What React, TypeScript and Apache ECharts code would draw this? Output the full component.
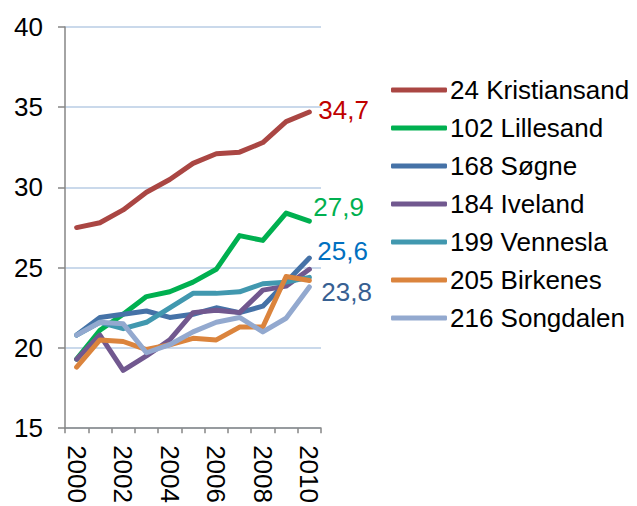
import React, { useEffect, useRef } from "react";
import * as echarts from "echarts";

const years = ["2000", "2001", "2002", "2003", "2004", "2005", "2006", "2007", "2008", "2009", "2010"];
const seriesNames = ["24 Kristiansand", "102 Lillesand", "168 Søgne", "184 Iveland", "199 Vennesla", "205 Birkenes", "216 Songdalen"];
const kristiansand = [27.5, 27.8, 28.6, 29.7, 30.5, 31.5, 32.1, 32.2, 32.8, 34.1, 34.7];
const lillesand = [19.3, 21.1, 22.1, 23.2, 23.5, 24.1, 24.9, 27.0, 26.7, 28.4, 27.9];
const sogne = [20.8, 21.9, 22.1, 22.3, 21.9, 22.1, 22.5, 22.2, 22.6, 24.1, 25.6];
const iveland = [19.3, 20.8, 18.6, 19.5, 20.5, 22.2, 22.35, 22.2, 23.6, 23.85, 24.9];
const vennesla = [20.8, 21.6, 21.2, 21.6, 22.5, 23.4, 23.4, 23.5, 24.0, 24.1, 24.4];
const birkenes = [18.8, 20.5, 20.4, 19.9, 20.2, 20.6, 20.5, 21.3, 21.3, 24.45, 24.2];
const songdalen = [20.8, 21.6, 21.5, 19.7, 20.2, 21.0, 21.6, 21.9, 21.0, 21.85, 23.8];
const yTicks = [15, 20, 25, 30, 35, 40];

const allValues = [kristiansand, lillesand, sogne, iveland, vennesla, birkenes, songdalen];
const lineColors = ["#AA4643", "#00B050", "#4572A7", "#71588F", "#4198AF", "#DB843D", "#93A9CF"];
// end-of-line value labels: series index -> style
const endLabels: Record<number, { color: string; offset: [number, number] }> = {
  0: { color: "#C00000", offset: [4, -2] },
  1: { color: "#00B050", offset: [-1, -14] },
  2: { color: "#0070C0", offset: [3, -7] },
  6: { color: "#376092", offset: [7, 5] },
};

const FONT = "'Liberation Sans', Arial, sans-serif";

export default function App() {
  const ref = useRef<HTMLDivElement>(null);
  useEffect(() => {
    if (!ref.current) return;
    const chart = echarts.init(ref.current, undefined, { renderer: "svg" });
    const series = seriesNames.map((name, si) => {
      const lab = endLabels[si];
      return {
        name,
        type: "line",
        symbol: "none",
        smooth: false,
        lineStyle: { color: lineColors[si], width: 5, cap: "round", join: "round" },
        itemStyle: { color: lineColors[si] },
        endLabel: lab
          ? {
              show: true,
              distance: 5,
              offset: lab.offset,
              color: lab.color,
              fontSize: 26,
              fontFamily: FONT,
              formatter: (p: any) => String(p.value).replace(".", ","),
            }
          : { show: false },
        data: allValues[si],
      };
    });
    chart.setOption({
      animation: false,
      backgroundColor: "#ffffff",
      grid: { left: 65, right: 316, top: 27, bottom: 74, containLabel: false },
      legend: {
        orient: "vertical",
        left: 386,
        top: 72,
        itemWidth: 56,
        itemHeight: 5,
        itemGap: 12,
        icon: "roundRect",
        textStyle: { fontSize: 26, fontFamily: FONT, color: "#000000", lineHeight: 26, padding: [0, 0, 0, -2] },
        data: seriesNames,
      },
      xAxis: {
        type: "category",
        data: years,
        boundaryGap: true,
        axisLine: { lineStyle: { color: "#868686", width: 1.5 } },
        axisTick: { show: true, interval: 0, length: 5, lineStyle: { color: "#868686", width: 1.5 } },
        axisLabel: {
          interval: 1,
          rotate: -90,
          margin: 17,
          fontSize: 26,
          fontFamily: FONT,
          color: "#000000",
        },
        splitLine: { show: false },
      },
      yAxis: {
        type: "value",
        min: yTicks[0],
        max: yTicks[yTicks.length - 1],
        interval: 5,
        axisLine: { show: true, lineStyle: { color: "#868686", width: 1.5 } },
        axisTick: { show: true, length: 7, lineStyle: { color: "#868686", width: 1.5 } },
        axisLabel: { margin: 22, fontSize: 26, fontFamily: FONT, color: "#000000" },
        splitLine: { show: true, lineStyle: { color: "#B9CDE5", width: 1.5 } },
      },
      series,
    });
    return () => chart.dispose();
  }, []);
  return <div ref={ref} style={{ width: 637, height: 506, position: "absolute", left: 0, top: 0 }} />;
}
